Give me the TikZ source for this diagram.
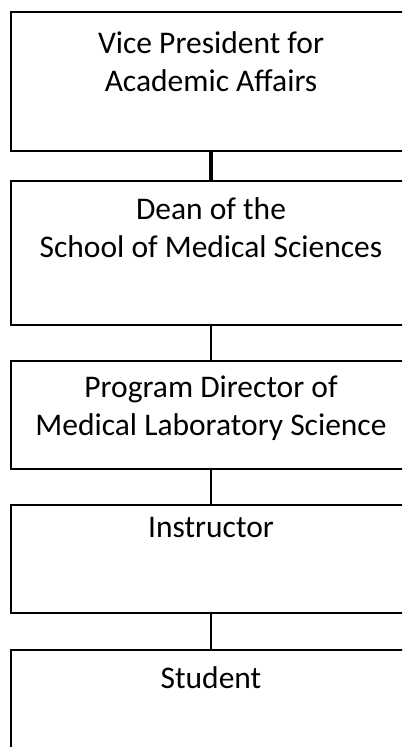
\documentclass[tikz,border=0pt]{standalone}
\usepackage{fontspec}
\setmainfont{Carlito}
\begin{document}
\begin{tikzpicture}[x=1pt,y=-1pt,
  orgbox/.style={draw=black,line width=2pt,fill=white,rectangle,inner sep=0pt,minimum width=400pt,anchor=north},
  boxtext/.style={anchor=base,align=center,inner sep=0pt,font=\fontsize{31.5}{38}\selectfont},
  link/.style={draw=black,line width=2pt},
  thicklink/.style={draw=black,line width=4pt}]
\useasboundingbox (0,0) rectangle (402,747);
\clip (0,0) rectangle (402,747);
\fill[white] (0,0) rectangle (402,747);
\node[orgbox,minimum height=139pt] (b1) at (211,11) {};
\node[orgbox,minimum height=144pt] (b2) at (211,180) {};
\node[orgbox,minimum height=108pt] (b3) at (211,360) {};
\node[orgbox,minimum height=108pt] (b4) at (211,504) {};
\node[orgbox,minimum height=140pt] (b5) at (211,649) {};
\node[boxtext] (t1) at (211,91) {Vice President for\\Academic Affairs};
\node[boxtext] (t2) at (211,257) {Dean of the\\School of Medical Sciences};
\node[boxtext] (t3) at (211,435) {Program Director of\\Medical Laboratory Science};
\node[boxtext] (t4) at (211,537) {Instructor};
\node[boxtext] (t5) at (211,688) {Student};
\draw[thicklink] (b1.south) -- (b2.north);
\draw[link] (b2.south) -- (b3.north);
\draw[link] (b3.south) -- (b4.north);
\draw[link] (b4.south) -- (b5.north);
\end{tikzpicture}
\end{document}
